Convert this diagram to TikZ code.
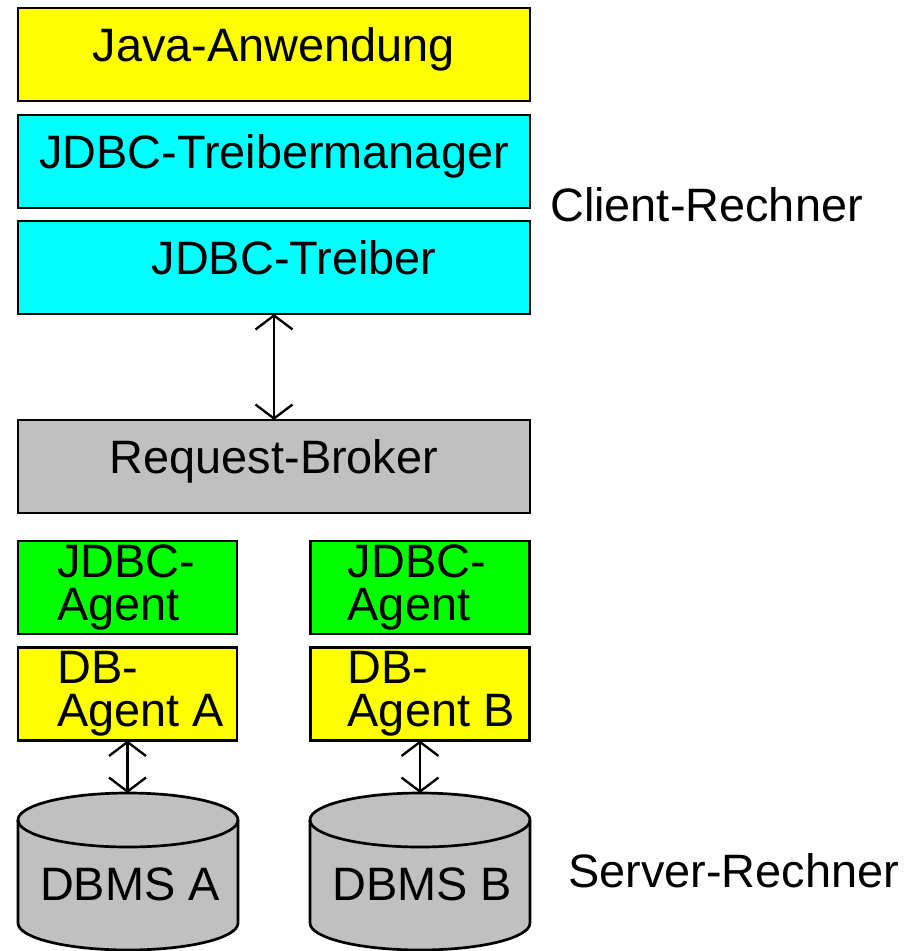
\documentclass[tikz,border=0pt]{standalone}
\usepackage{fontspec}
\setmainfont{Liberation Sans}
\usetikzlibrary{arrows.meta}
\definecolor{Gelb}{HTML}{FFFF00}
\definecolor{Tuerkis}{HTML}{00FFFF}
\definecolor{Grau}{HTML}{C0C0C0}
\definecolor{Gruen}{HTML}{00FF00}

\begin{document}
\begin{tikzpicture}[x=0.03cm,y=-0.03cm,
    layer/.style={draw,line width=2.3pt,minimum width=15.36cm,minimum height=2.79cm,
      inner sep=0pt,outer sep=0pt,font=\fontsize{40}{44}\selectfont,
      text height=28.6pt,text depth=17pt},
    agent/.style={draw,line width=2.3pt,minimum width=6.57cm,minimum height=2.79cm,
      inner sep=0pt,outer sep=0pt},
    twoline/.style={anchor=west,inner sep=0pt,align=left,font=\fontsize{40}{37}\selectfont},
    plain/.style={inner sep=0pt,font=\fontsize{40}{44}\selectfont,text height=28.6pt,text depth=0pt},
    link/.style={{Straight Barb[length=0.42cm,width=1.11cm]}-{Straight Barb[length=0.42cm,width=1.11cm]},
      line width=2pt},
    disk/.style={draw,line width=2.3pt,fill=Grau}
  ]
  \useasboundingbox (0,0) rectangle (909,951);

  % client side
  \node[layer,fill=Gelb] (java) at (274,54.5) {Java-Anwendung};
  \node[layer,fill=Tuerkis] (manager) at (274,161.5) {JDBC-Treibermanager};
  \node[layer,fill=Tuerkis] (treiber) at (274,267.5) {\hspace*{1.2cm}JDBC-Treiber};
  \node[anchor=west,plain] (client) at (550,205) {Client-Rechner};

  \node[layer,fill=Grau] (broker) at (274,466.5) {Request-Broker};
  \draw[link] (treiber.south) -- (broker.north);

  % server side
  \node[agent,fill=Gruen] (jagentA) at (127.5,587.5) {};
  \node[agent,fill=Gruen] (jagentB) at (420,587.5) {};
  \node[agent,fill=Gelb] (dbagentA) at (127.5,694) {};
  \node[agent,fill=Gelb] (dbagentB) at (420,694) {};
  \node[twoline] (jtextA) at ([xshift=1.17cm]jagentA.west) {JDBC-\\Agent};
  \node[twoline] (jtextB) at ([xshift=1.11cm]jagentB.west) {JDBC-\\Agent};
  \node[twoline] (dbtextA) at ([xshift=1.17cm]dbagentA.west) {DB-\\Agent A};
  \node[twoline] (dbtextB) at ([xshift=1.11cm]dbagentB.west) {DB-\\Agent B};

  \path[disk] (18,820) -- (18,923) arc[start angle=180,end angle=360,x radius=3.3cm,y radius=0.81cm]
    -- (238,820) arc[start angle=0,end angle=180,x radius=3.3cm,y radius=0.81cm] -- cycle;
  \draw[line width=2.3pt] (18,820) arc[start angle=180,end angle=360,x radius=3.3cm,y radius=0.81cm];
  \path[disk] (310,820) -- (310,923) arc[start angle=180,end angle=360,x radius=3.3cm,y radius=0.81cm]
    -- (530,820) arc[start angle=0,end angle=180,x radius=3.3cm,y radius=0.81cm] -- cycle;
  \draw[line width=2.3pt] (310,820) arc[start angle=180,end angle=360,x radius=3.3cm,y radius=0.81cm];
  \coordinate (topA) at (127.5,793);
  \coordinate (topB) at (420,793);
  \node[plain] (dbmsA) at (130,884) {DBMS A};
  \node[plain] (dbmsB) at (422,884) {DBMS B};

  \draw[link] (dbagentA.south) -- (topA);
  \draw[link] (dbagentB.south) -- (topB);
  \node[anchor=west,plain] (server) at (568,871) {Server-Rechner};
\end{tikzpicture}
\end{document}
